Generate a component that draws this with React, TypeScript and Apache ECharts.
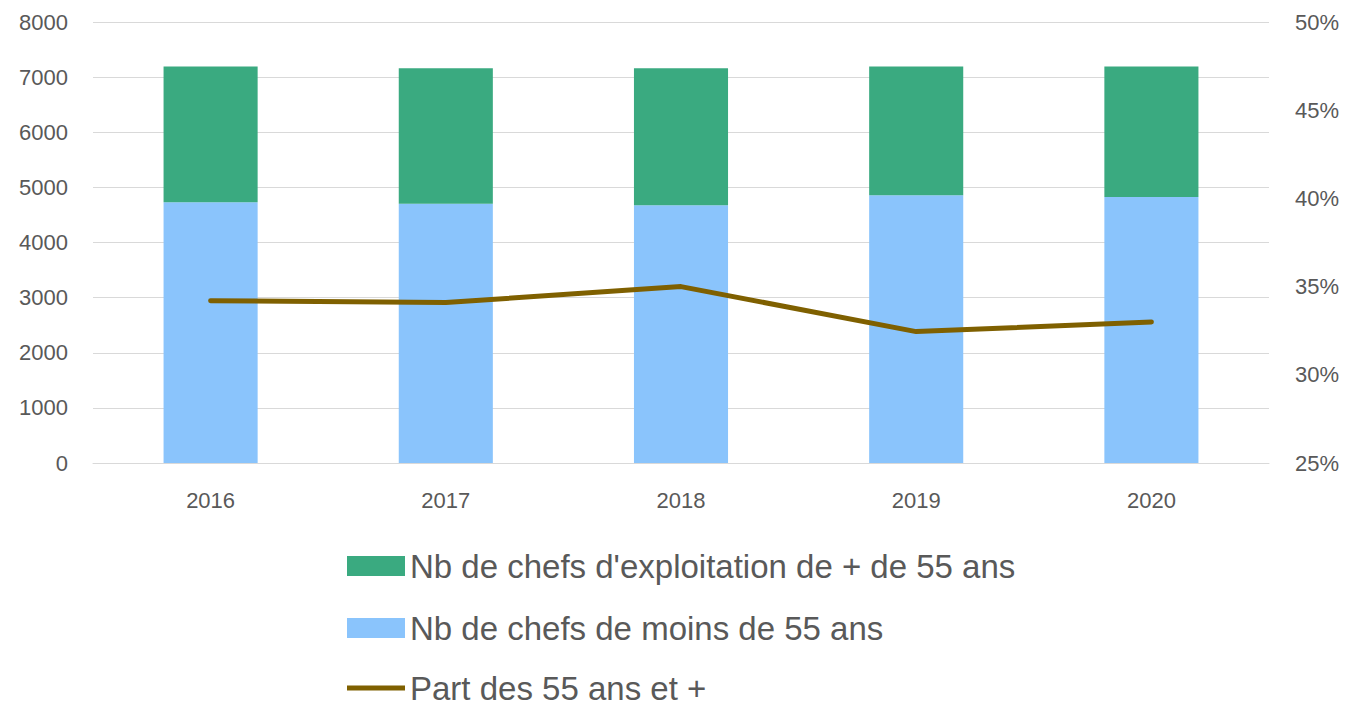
import React, { useEffect, useRef } from "react";
import * as echarts from "echarts";

const years = ["2016", "2017", "2018", "2019", "2020"];
const under55 = [4730, 4705, 4675, 4855, 4825];
const over55 = [2463, 2458, 2488, 2338, 2368];
const share55 = [34.2, 34.1, 35.0, 32.45, 33.0];

const NAME_OVER = "Nb de chefs d'exploitation de + de 55 ans";
const NAME_UNDER = "Nb de chefs de moins de 55 ans";
const NAME_SHARE = "Part des 55 ans et +";

const FONT = "Liberation Sans";
const TXT = "#595959";

const legendBase = {
  orient: "vertical",
  left: 347,
  padding: 0,
  itemWidth: 58,
  itemHeight: 20,
  textStyle: { fontSize: 33, lineHeight: 34, color: TXT, fontFamily: FONT },
};

export default function App() {
  const ref = useRef<HTMLDivElement>(null);
  useEffect(() => {
    if (!ref.current) return;
    const chart = echarts.init(ref.current, null, { renderer: "svg" });
    chart.setOption({
      animation: false,
      backgroundColor: "#ffffff",
      textStyle: { fontFamily: FONT },
      grid: { left: 93, right: 88, top: 22, bottom: 243, containLabel: false },
      legend: [
        { ...legendBase, top: 549, data: [{ name: NAME_OVER, icon: "rect" }] },
        { ...legendBase, top: 611, data: [{ name: NAME_UNDER, icon: "rect" }] },
        {
          ...legendBase,
          top: 671,
          data: [{ name: NAME_SHARE, icon: "path://M0,0 L58,0 L58,5 L0,5 Z" }],
        },
      ],
      xAxis: {
        type: "category",
        data: years,
        axisLine: { show: true, lineStyle: { color: "#D9D9D9", width: 1 } },
        axisTick: { show: false },
        axisLabel: { fontSize: 22, color: TXT, margin: 26, fontFamily: FONT },
      },
      yAxis: [
        {
          type: "value",
          min: 0,
          max: 8000,
          interval: 1000,
          axisLine: { show: false },
          axisTick: { show: false },
          splitLine: { lineStyle: { color: "#D9D9D9", width: 1 } },
          axisLabel: {
            fontSize: 22,
            color: TXT,
            margin: 25,
            fontFamily: FONT,
            formatter: (v: number) => String(v),
          },
        },
        {
          type: "value",
          min: 25,
          max: 50,
          interval: 5,
          position: "right",
          axisLine: { show: false },
          axisTick: { show: false },
          splitLine: { show: false },
          axisLabel: {
            fontSize: 22,
            color: TXT,
            margin: 26,
            fontFamily: FONT,
            formatter: (v: number) => v + "%",
          },
        },
      ],
      series: [
        {
          name: NAME_UNDER,
          type: "bar",
          stack: "total",
          barWidth: "40%",
          data: under55,
          itemStyle: { color: "#8AC4FC" },
        },
        {
          name: NAME_OVER,
          type: "bar",
          stack: "total",
          barWidth: "40%",
          data: over55,
          itemStyle: { color: "#3AAA80" },
        },
        {
          name: NAME_SHARE,
          type: "line",
          yAxisIndex: 1,
          data: share55,
          symbol: "none",
          showSymbol: false,
          lineStyle: { color: "#7F6000", width: 5, cap: "round", join: "round" },
          itemStyle: { color: "#7F6000" },
        },
      ],
    });
    return () => chart.dispose();
  }, []);
  return (
    <div
      ref={ref}
      style={{ position: "absolute", left: 0, top: 0, width: 1357, height: 706 }}
    />
  );
}
